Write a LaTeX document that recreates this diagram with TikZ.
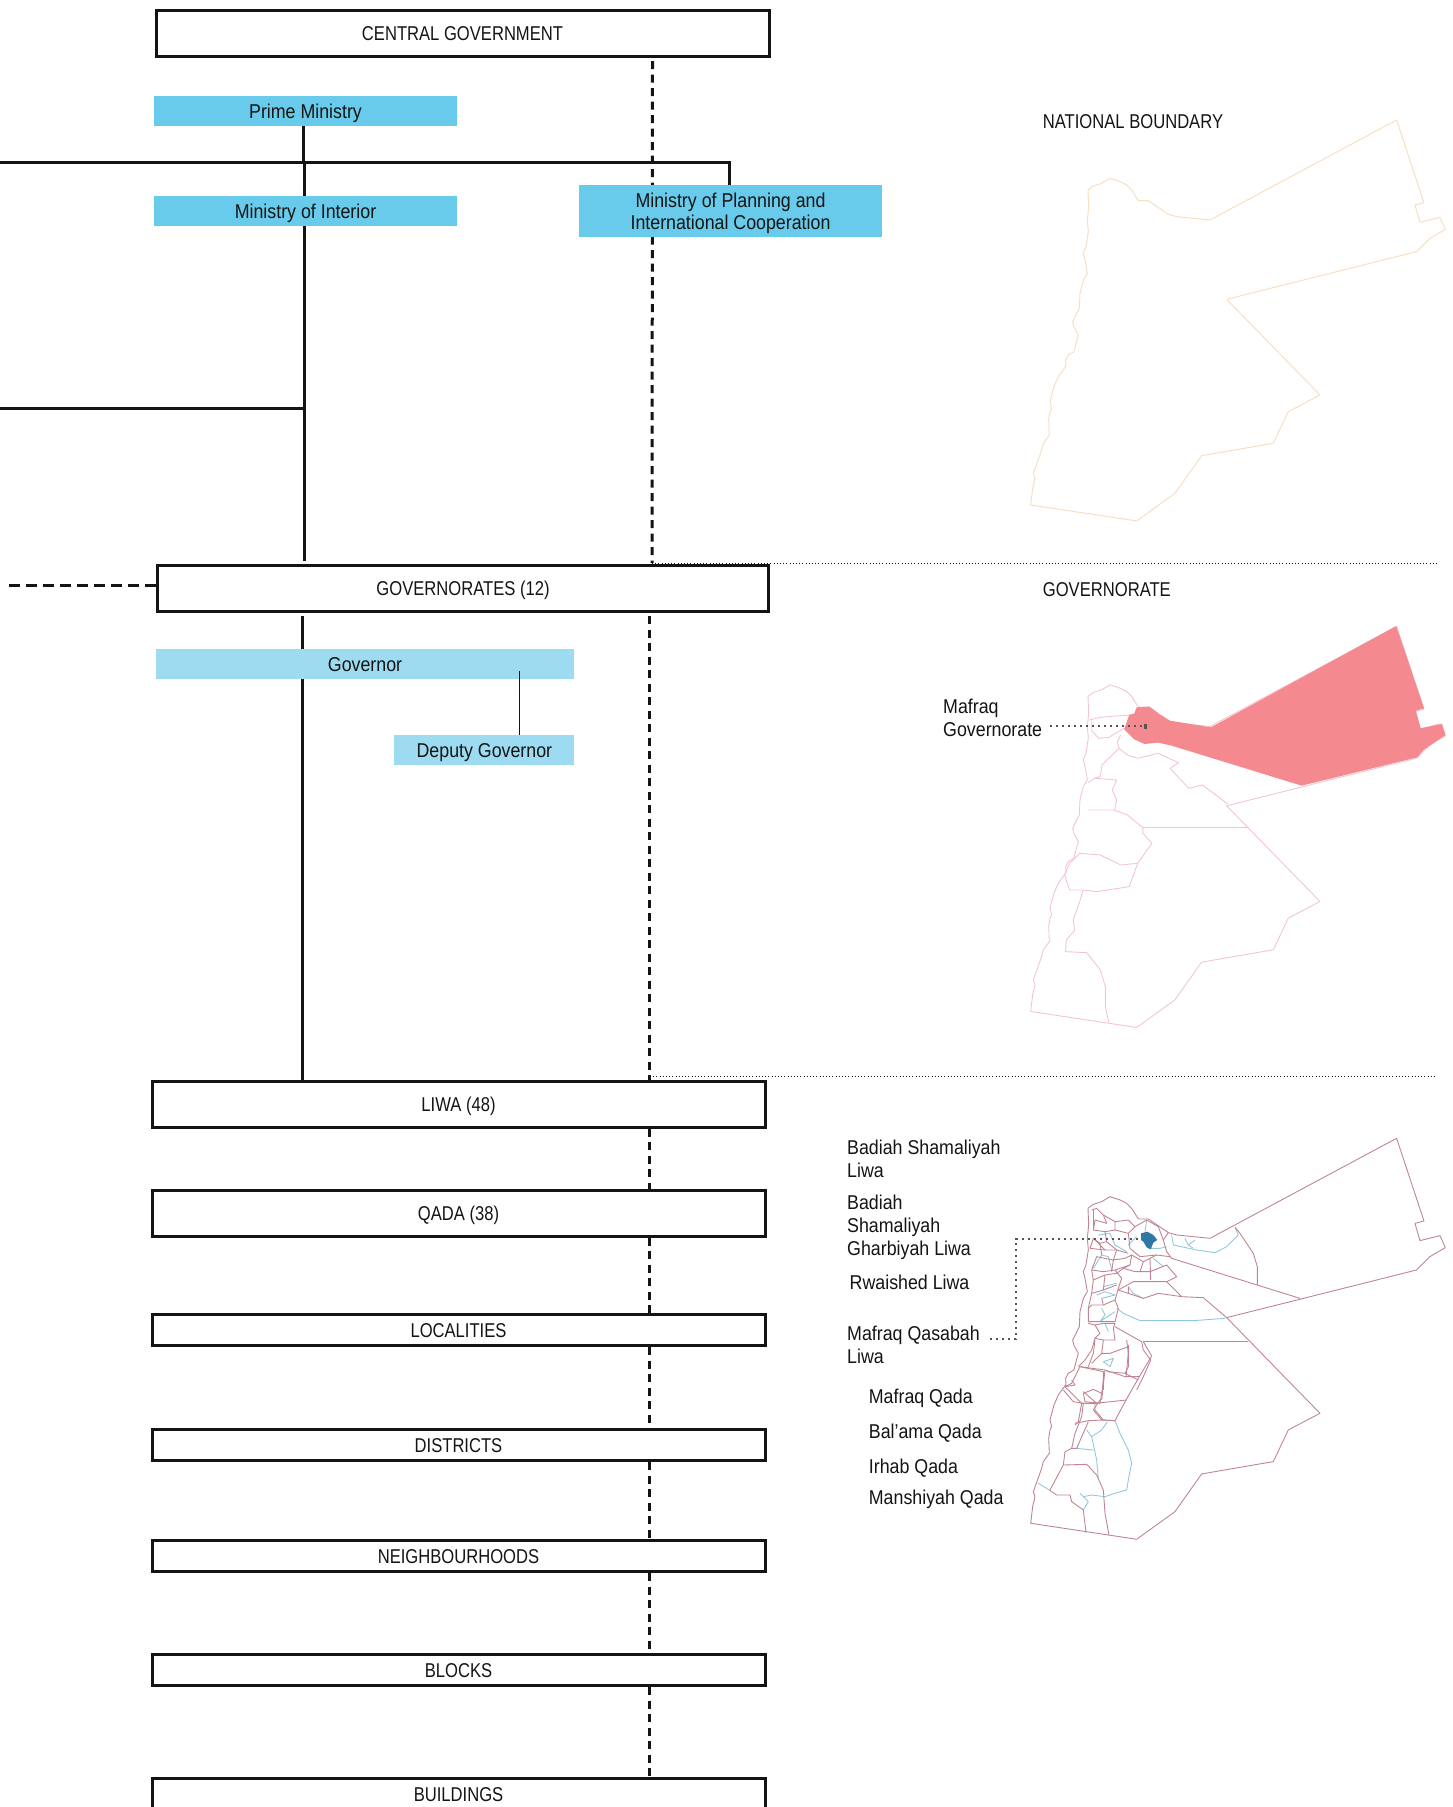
\documentclass[tikz,border=0pt]{standalone}
\usepackage{fontspec}
\setmainfont[FakeStretch=0.89]{Liberation Sans}
\newfontfamily\capsfont[FakeStretch=0.83]{Liberation Sans}
\usetikzlibrary{backgrounds}
\definecolor{ink}{HTML}{141414}
\definecolor{bluea}{HTML}{69CBEB}
\definecolor{blueb}{HTML}{9DDBF0}
\definecolor{peach}{HTML}{F7DFC3}
\definecolor{pinkl}{HTML}{F3C6CE}
\definecolor{mafraq}{HTML}{F48A90}
\definecolor{rosel}{HTML}{BF8592}
\definecolor{teall}{HTML}{93C8DC}
\definecolor{qasabah}{HTML}{2F77A5}
\definecolor{dotgray}{HTML}{555555}
\tikzset{
  lbl/.style={font=\fontsize{20}{23}\selectfont,text=ink,inner sep=0pt,align=left},
  capslbl/.style={lbl,font=\capsfont\fontsize{20}{23}\selectfont},
  govbox/.style={draw=ink,line width=3pt,fill=white,minimum width=#1,inner sep=0pt,
     font=\capsfont\fontsize{20}{23}\selectfont,text=ink,text height=15pt,text depth=0pt},
  lowbox/.style={govbox=613pt,minimum height=31pt},
  tallbox/.style={govbox=613pt,minimum height=46pt},
  minbox/.style={fill=bluea,inner sep=0pt,font=\fontsize{20}{23}\selectfont,text=ink,align=center,minimum height=30pt,minimum width=303pt,text height=15pt,text depth=0pt},
  planbox/.style={fill=bluea,inner sep=0pt,font=\fontsize{20}{22.5}\selectfont,text=ink,align=center,minimum height=52pt,minimum width=303pt},
  solid line/.style={draw=ink,line width=3pt},
  dash line/.style={draw=ink,line width=3pt,dash pattern=on 8pt off 5.5pt},
  dot rule/.style={draw=ink,line width=.8pt,dash pattern=on 1pt off 2.2pt},
  leader/.style={draw=dotgray,line width=2pt,dash pattern=on 2pt off 4pt},
  rose/.style={draw=rosel,line width=.9pt,line join=round},
  teal/.style={draw=teall,line width=.9pt,line join=round},
  pinkln/.style={draw=pinkl,line width=.9pt,line join=round},
  tx/.style={x=.3333pt,y=-.3333pt},
}
\def\jordan{(1190,90) -- (1272,338) -- (1245,345) -- (1260,397) -- (1320,382) -- (1336,418) -- (1290,445) -- (1250,485) -- (680,628) -- (960,915) -- (865,965) -- (820,1060) -- (605,1097) -- (525,1210) -- (410,1293) -- (92,1245) -- (98,1195) -- (105,1165) -- (100,1150) -- (118,1100) -- (125,1080) -- (130,1060) -- (148,1035) -- (146,990) -- (150,965) -- (155,955) -- (150,935) -- (162,890) -- (175,860) -- (198,828) -- (197,810) -- (205,795) -- (222,785) -- (228,760) -- (235,735) -- (222,712) -- (218,695) -- (238,655) -- (240,610) -- (250,570) -- (262,550) -- (255,510) -- (250,490) -- (258,470) -- (265,425) -- (262,390) -- (266,350) -- (264,300) -- (280,288) -- (305,280) -- (330,265) -- (360,275) -- (380,285) -- (395,300) -- (415,332) -- (445,332) -- (505,373) -- (530,380) -- (630,390) -- cycle}
\begin{document}
\begin{tikzpicture}[x=1pt,y=-1pt]
\useasboundingbox (0,0) rectangle (1453,1807);
\clip (0,0) rectangle (1453,1807);
% boxes
\node[tallbox] (central) at (462.5,33) {CENTRAL GOVERNMENT};
\node[tallbox,minimum width=611pt] (gov) at (463,588) {GOVERNORATES (12)};
\node[tallbox] (liwa) at (458.5,1104) {LIWA (48)};
\node[tallbox] (qada) at (458.5,1213) {QADA (38)};
\node[lowbox] (local) at (458.5,1330) {LOCALITIES};
\node[lowbox] (dist) at (458.5,1445) {DISTRICTS};
\node[lowbox] (neigh) at (458.5,1556) {NEIGHBOURHOODS};
\node[lowbox] (blocks) at (458.5,1670) {BLOCKS};
\node[govbox=613pt,anchor=north,text height=23pt,text depth=40pt] (build) at (458.5,1777) {BUILDINGS};
% blue boxes
\node[minbox] (prime) at (305.5,111) {Prime Ministry};
\node[minbox] (interior) at (305.5,211) {Ministry of Interior};
\node[planbox] (plan) at (730.5,211) {\rule{0pt}{19pt}Ministry of Planning and\\International Cooperation};
\node[minbox,fill=blueb,minimum width=418pt] (governor) at (365,664) {Governor};
\node[minbox,fill=blueb,minimum width=180pt] (deputy) at (484.4,750) {Deputy Governor};
% free ends
\coordinate (jt) at (303,162);
\coordinate (jr) at (0,162);
\coordinate (jp) at (729.5,162);
\coordinate (jc) at (304.4,408.5);
\coordinate (jl) at (0,408.5);
\coordinate (dl) at (3,585);
\coordinate (ve) at (304.4,561);
\coordinate (vb) at (302,616);
\coordinate (da) at (652.5,61);
\coordinate (db) at (649.5,616);
\coordinate (gt) at (519.3,671);
\coordinate (ra) at (652,563);
\coordinate (rb) at (1438,563);
\coordinate (rc) at (650,1076.5);
\coordinate (rd) at (1437,1076.5);
\begin{scope}[on background layer]
  \draw[dash line] (da) -- (ra);
  \draw[dash line] (db) -- (db |- liwa.north);
  \foreach \a/\b in {liwa/qada,qada/local,local/dist,dist/neigh,neigh/blocks,blocks/build}
    \draw[dash line] (db |- \a.south) -- (db |- \b.north);
  \draw[solid line] (prime.south -| jt) -- (jt);
  \draw[solid line] (jr) -- (jp) -- (jp |- plan.north);
  \draw[solid line] (jt -| ve) -- (ve);
  \draw[solid line] (jl) -- (jc);
  \draw[solid line] (vb) -- (vb |- liwa.north);
  \draw[dash line,dash pattern=on 11pt off 6pt] (dl -| gov.west) -- (dl);
\end{scope}
\draw[draw=ink,line width=1.2pt] (gt) -- (gt |- deputy.north);
\draw[dot rule] (ra) -- (rb);
\draw[dot rule] (rc) -- (rd);
% labels
\node[capslbl,anchor=base west] (tnat) at (1042.7,128) {NATIONAL BOUNDARY};
\node[capslbl,anchor=base west] (tgov) at (1042.7,596) {GOVERNORATE};
\node[lbl,anchor=west] (tmaf) at (943,718) {Mafraq\\Governorate};
\node[lbl,anchor=west] (t1) at (847,1159) {Badiah Shamaliyah\\Liwa};
\node[lbl,anchor=west] (t2) at (847,1227) {Badiah\\Shamaliyah\\Gharbiyah Liwa};
\node[lbl,anchor=base west] (t3) at (849.5,1289.3) {Rwaished Liwa};
\node[lbl,anchor=west] (t4) at (847,1344.7) {Mafraq Qasabah\\Liwa};
\node[lbl,anchor=base west] (t5) at (868.7,1403) {Mafraq Qada};
\node[lbl,anchor=base west] (t6) at (868.7,1438.3) {Bal'ama Qada};
\node[lbl,anchor=base west] (t7) at (868.7,1473.3) {Irhab Qada};
\node[lbl,anchor=base west] (t8) at (868.7,1504.3) {Manshiyah Qada};
% map 1
\begin{scope}[shift={(1000,90)},tx]
  \draw[draw=peach,line width=1pt,line join=round] \jordan;
\end{scope}
% map 2
\begin{scope}[shift={(1000,596.5)},tx]
  \draw[pinkln] \jordan;
\end{scope}
\begin{scope}[shift={(920,600)},x=.34014pt,y=-.3333pt]
  \draw[pinkln] (498,360) -- (530,352) -- (575,348) -- (618,345);
  \draw[pinkln] (505,362) -- (505,392) -- (525,415) -- (555,412) -- (575,400) -- (600,385);
  \draw[pinkln] (590,405) -- (580,425) -- (585,445) -- (560,470) -- (535,495) -- (530,530) -- (512,535) -- (495,548);
  \draw[pinkln] (585,445) -- (610,465) -- (640,475) -- (700,460) -- (760,488) -- (735,505) -- (790,565) -- (830,555) -- (905,612);
  \draw[pinkln] (655,683) -- (968,683);
  \draw[pinkln] (515,535) -- (578,540) -- (565,570) -- (578,600) -- (572,630);
  \draw[pinkln] (495,630) -- (570,630) -- (610,645) -- (655,683) -- (655,700) -- (682,730) -- (640,790) -- (615,860) -- (520,875) -- (480,870) -- (440,870) -- (425,825);
  \draw[pinkln] (425,825) -- (440,790) -- (470,760) -- (530,765) -- (590,795) -- (640,790);
  \draw[pinkln] (480,870) -- (465,920) -- (450,960) -- (455,990) -- (430,1020) -- (428,1055) -- (490,1058) -- (530,1110) -- (545,1160) -- (545,1220) -- (555,1268);
  \fill[mafraq] (1400,78) -- (1482,325) -- (1458,332) -- (1472,385) -- (1535,372) -- (1545,405) -- (1480,450) -- (1462,472) -- (1122,557) -- (740,437) -- (700,428) -- (660,432) -- (630,418) -- (600,388) -- (615,345) -- (630,340) -- (637,322) -- (675,320) -- (705,343) -- (735,362) -- (855,382) -- cycle;
\end{scope}
\coordinate (la) at (1050,726);
\coordinate (lb) at (1145,726);
\draw[leader] (la) -- (lb);
\fill[dotgray] (lb) ++(-1.5,-2.5) rectangle ++(3,5);
% map 3
\begin{scope}[shift={(1000,1108.3)},tx]
  \draw[rose] \jordan;
\end{scope}
\begin{scope}[shift={(1060,1190)},tx]
  \draw[teal] (525,112) -- (535,135) -- (500,170) -- (465,188) -- (410,180) -- (340,165) -- (335,135);
  \draw[teal] (375,145) -- (385,165) -- (405,150);
  \draw[teal] (400,175) -- (385,165);
  \draw[teal] (260,90) -- (255,125);
  \draw[teal] (230,140) -- (205,165);
  \draw[teal] (270,175) -- (300,175) -- (320,170);
  \draw[teal] (280,205) -- (310,230);
  \draw[teal] (115,135) -- (150,130) -- (165,165) -- (200,185);
  \draw[teal] (100,235) -- (125,195) -- (145,200) -- (155,240);
  \draw[teal] (170,355) -- (190,370) -- (240,392) -- (400,392) -- (495,385);
  \draw[teal] (125,355) -- (135,375) -- (120,395) -- (165,365);
  \draw[teal] (110,315) -- (135,305) -- (165,315) -- (125,325);
  \draw[teal] (130,290) -- (170,280);
  \draw[teal] (205,290) -- (220,310) -- (250,325);
  \draw[teal] (130,515) -- (160,505) -- (150,530) -- (130,515);
  \draw[teal] (135,400) -- (145,425);
  \draw[rose] (525,112) -- (540,130) -- (580,190) -- (592,230) -- (592,285);
  \draw[rose] (325,128) -- (310,150) -- (320,185) -- (335,205) -- (720,325);
  \draw[rose] (95,60) -- (110,55) -- (130,75) -- (140,100) -- (105,90) -- (100,120) -- (135,125) -- (165,120) -- (165,95) -- (205,90);
  \draw[rose] (135,125) -- (140,155) -- (120,160) -- (100,145) -- (90,175);
  \draw[rose] (165,120) -- (205,130) -- (225,110);
  \draw[rose] (205,130) -- (210,175) -- (240,200) -- (290,195) -- (330,200);
  \draw[rose] (140,155) -- (170,180) -- (205,190);
  \draw[rose] (225,110) -- (260,90) -- (295,110) -- (310,150);
  \draw[rose] (170,180) -- (160,210) -- (195,205) -- (215,195) -- (210,225) -- (165,240) -- (130,245) -- (95,240);
  \draw[rose] (160,210) -- (155,245);
  \draw[rose] (95,240) -- (100,270) -- (135,255) -- (170,250) -- (190,235) -- (225,245) -- (270,245) -- (320,225) -- (350,260) -- (320,275) -- (220,275) -- (175,300);
  \draw[rose] (270,205) -- (272,270);
  \draw[rose] (165,240) -- (185,265) -- (175,295) -- (165,330) -- (130,345) -- (95,345) -- (85,355) -- (85,395) -- (165,395);
  \draw[rose] (95,310) -- (130,300) -- (170,285);
  \draw[rose] (320,275) -- (365,320) -- (295,310) -- (250,325) -- (205,310) -- (205,290);
  \draw[rose] (365,320) -- (430,323) -- (500,383);
  \draw[rose] (250,455) -- (565,455);
  \draw[rose] (85,400) -- (105,405) -- (120,430) -- (105,445);
  \draw[rose] (130,400) -- (165,400) -- (160,415) -- (165,450) -- (130,450) -- (105,445) -- (95,480) -- (75,510) -- (55,530);
  \draw[rose] (165,410) -- (200,430) -- (245,455) -- (250,480) -- (272,510) -- (250,560) -- (230,600);
  \draw[rose] (130,450) -- (125,490) -- (150,490) -- (205,470);
  \draw[rose] (205,465) -- (205,530) -- (195,550) -- (140,545);
  \draw[rose] (125,490) -- (95,520);
  \draw[rose] (60,530) -- (130,545) -- (130,600);
  \draw[rose] (195,550) -- (235,570);
  \draw[rose] (100,60) -- (100,120);
  \draw[rose] (130,75) -- (165,95);
  \draw[rose] (205,90) -- (225,110);
  \draw[rose] (100,145) -- (135,180) -- (170,180);
  \draw[rose] (90,175) -- (135,180);
  \draw[rose] (95,240) -- (110,200) -- (160,210);
  \draw[rose] (215,195) -- (250,215) -- (290,195);
  \draw[rose] (250,215) -- (240,245);
  \draw[rose] (190,235) -- (210,225);
  \draw[rose] (100,270) -- (95,310) -- (85,355);
  \draw[rose] (130,300) -- (135,255);
  \draw[rose] (130,345) -- (125,325);
  \draw[rose] (165,330) -- (175,355) -- (165,395);
  \draw[rose] (120,160) -- (125,195);
  \draw[rose] (175,300) -- (205,310);
  \draw[rose] (105,405) -- (130,400);
  \fill[qasabah] (243,130) -- (262,125) -- (280,135) -- (292,150) -- (280,158) -- (272,178) -- (260,172) -- (250,155) -- (243,150) -- cycle;
\end{scope}
\begin{scope}[shift={(1000,1120)},tx]
  \draw[rose] (240,740) -- (315,750) -- (375,770) -- (418,770);
  \draw[rose] (315,750) -- (305,840);
  \draw[rose] (240,740) -- (215,790) -- (195,800);
  \draw[rose] (285,660) -- (280,700) -- (265,740);
  \draw[rose] (380,660) -- (385,700) -- (378,770);
  \draw[rose] (195,800) -- (245,850) -- (290,850) -- (250,815);
  \draw[rose] (245,850) -- (235,905) -- (225,915);
  \draw[rose] (300,840) -- (280,870) -- (305,900) -- (345,902);
  \draw[rose] (430,665) -- (455,708) -- (418,770) -- (378,840) -- (345,902);
\end{scope}
\begin{scope}[shift={(1020,1380)},tx]
  \draw[teal] (285,122) -- (300,160) -- (325,210) -- (335,250) -- (325,300) -- (320,330) -- (290,338) -- (255,350) -- (215,345) -- (190,350) -- (180,340) -- (205,365) -- (190,390);
  \draw[teal] (262,125) -- (245,150) -- (215,170) -- (200,150);
  \draw[teal] (215,170) -- (230,240) -- (235,295);
  \draw[teal] (170,205) -- (220,210);
  \draw[teal] (55,310) -- (88,330);
  \draw[rose] (130,30) -- (160,65) -- (190,70) -- (185,110) -- (165,160) -- (155,205) -- (135,215) -- (130,255) -- (90,330);
  \draw[rose] (155,0) -- (165,15) -- (135,20);
  \draw[rose] (190,70) -- (225,70) -- (225,90) -- (250,120) -- (285,122);
  \draw[rose] (225,70) -- (320,60);
  \draw[rose] (250,0) -- (245,40) -- (240,70) -- (195,65) -- (190,40) -- (220,28) -- (245,40);
  \draw[rose] (165,130) -- (205,122) -- (250,120);
  \draw[rose] (205,125) -- (170,205) -- (155,205);
  \draw[rose] (130,255) -- (200,253) -- (230,285) -- (250,330) -- (255,400) -- (267,465);
  \draw[rose] (88,330) -- (110,345) -- (150,345) -- (155,365) -- (190,390) -- (198,458);
\end{scope}
\coordinate (lc) at (990,1339);
\coordinate (ld) at (1015.7,1339);
\coordinate (le) at (1015.7,1238.5);
\coordinate (lf) at (1138.3,1238.5);
\draw[leader] (lc) -- (ld) -- (le) -- (lf);
\end{tikzpicture}
\end{document}
